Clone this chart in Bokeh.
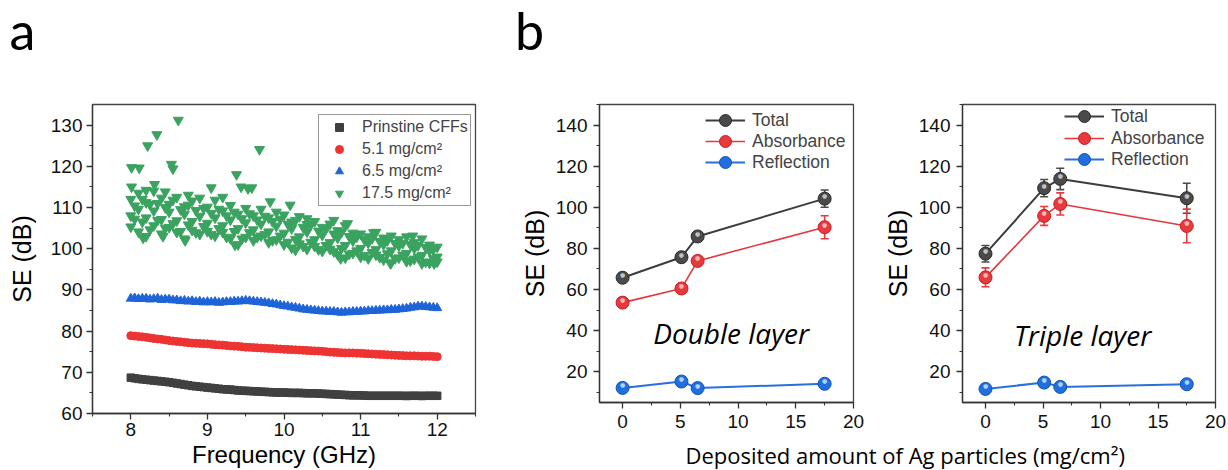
import math
from bokeh.plotting import figure
from bokeh.models import Range1d, FixedTicker, Legend, LegendItem, Label, ColumnDataSource
from bokeh.layouts import row, column
from bokeh.embed import file_html
from bokeh.resources import INLINE
from bokeh.core.properties import value

# ---------------- panel a data ----------------
freq = [8.0, 8.1, 8.2, 8.3, 8.4, 8.5, 8.6, 8.7, 8.8, 8.9,
        9.0, 9.1, 9.2, 9.3, 9.4, 9.5, 9.6, 9.7, 9.8, 9.9,
        10.0, 10.1, 10.2, 10.3, 10.4, 10.5, 10.6, 10.7, 10.8, 10.9,
        11.0, 11.1, 11.2, 11.3, 11.4, 11.5, 11.6, 11.7, 11.8, 11.9,
        12.0]
freq_b = [8.05, 8.15, 8.25, 8.35, 8.45, 8.55, 8.65, 8.75, 8.85, 8.95,
          9.05, 9.15, 9.25, 9.35, 9.45, 9.55, 9.65, 9.75, 9.85, 9.95,
          10.05, 10.15, 10.25, 10.35, 10.45, 10.55, 10.65, 10.75, 10.85, 10.95,
          11.05, 11.15, 11.25, 11.35, 11.45, 11.55, 11.65, 11.75, 11.85, 11.95]
freq_fine = [8.00, 8.05, 8.10, 8.15, 8.20, 8.25, 8.30, 8.35, 8.40, 8.45,
             8.50, 8.55, 8.60, 8.65, 8.70, 8.75, 8.80, 8.85, 8.90, 8.95,
             9.00, 9.05, 9.10, 9.15, 9.20, 9.25, 9.30, 9.35, 9.40, 9.45,
             9.50, 9.55, 9.60, 9.65, 9.70, 9.75, 9.80, 9.85, 9.90, 9.95,
             10.00, 10.05, 10.10, 10.15, 10.20, 10.25, 10.30, 10.35, 10.40, 10.45,
             10.50, 10.55, 10.60, 10.65, 10.70, 10.75, 10.80, 10.85, 10.90, 10.95,
             11.00, 11.05, 11.10, 11.15, 11.20, 11.25, 11.30, 11.35, 11.40, 11.45,
             11.50, 11.55, 11.60, 11.65, 11.70, 11.75, 11.80, 11.85, 11.90, 11.95,
             12.00]

se_pristine = [68.70, 68.55, 68.40, 68.30, 68.20, 68.10, 68.00, 67.90, 67.80, 67.70,
               67.60, 67.45, 67.30, 67.15, 67.00, 66.85, 66.70, 66.60, 66.50, 66.40,
               66.30, 66.20, 66.10, 66.00, 65.90, 65.85, 65.80, 65.70, 65.60, 65.55,
               65.50, 65.45, 65.40, 65.35, 65.30, 65.25, 65.20, 65.15, 65.10, 65.10,
               65.10, 65.05, 65.00, 65.00, 65.00, 64.95, 64.90, 64.90, 64.90, 64.85,
               64.80, 64.75, 64.70, 64.65, 64.60, 64.55, 64.50, 64.45, 64.40, 64.40,
               64.40, 64.35, 64.30, 64.30, 64.30, 64.30, 64.30, 64.30, 64.30, 64.30,
               64.30, 64.30, 64.25, 64.30, 64.30, 64.30, 64.25, 64.30, 64.30, 64.30,
               64.30]
se_51 = [78.90, 78.80, 78.70, 78.60, 78.50, 78.35, 78.20, 78.10, 78.00, 77.85,
         77.70, 77.60, 77.50, 77.40, 77.30, 77.20, 77.10, 77.05, 77.00, 76.95,
         76.90, 76.80, 76.70, 76.65, 76.60, 76.50, 76.40, 76.35, 76.30, 76.20,
         76.10, 76.05, 76.00, 75.95, 75.90, 75.85, 75.80, 75.75, 75.70, 75.65,
         75.60, 75.55, 75.50, 75.45, 75.40, 75.35, 75.30, 75.25, 75.20, 75.15,
         75.10, 75.00, 74.90, 74.85, 74.80, 74.75, 74.70, 74.70, 74.70, 74.65,
         74.60, 74.55, 74.50, 74.45, 74.40, 74.35, 74.30, 74.25, 74.20, 74.15,
         74.10, 74.05, 74.00, 74.00, 74.00, 73.95, 73.90, 73.90, 73.90, 73.85,
         73.80]
se_65 = [87.9, 88.0, 87.8, 87.9, 87.9, 87.7, 87.8, 87.9, 87.6, 87.7,
         87.7, 87.5, 87.5, 87.3, 87.4, 87.2, 87.3, 87.1, 87.2, 87.0,
         87.1, 87.0, 87.1, 86.9, 87.0, 87.1, 87.1, 87.2, 87.2, 87.3,
         87.4, 87.3, 87.2, 87.1, 87.0, 86.9, 86.8, 86.6, 86.5, 86.3,
         86.1, 86.0, 85.8, 85.7, 85.5, 85.3, 85.2, 85.1, 85.0, 84.9,
         84.8, 84.8, 84.7, 84.7, 84.6, 84.5, 84.6, 84.6, 84.7, 84.7,
         84.8, 84.8, 84.9, 84.9, 85.0, 85.0, 85.1, 85.1, 85.2, 85.2,
         85.3, 85.4, 85.5, 85.7, 85.8, 86.0, 86.0, 85.9, 85.8, 85.7,
         85.6]
# 17.5 mg/cm2 : scattered readings
se_175_hi = [112.0, 113.5, 111.2, 114.0, 112.3, 110.8, 112.5, 110.2, 111.6, 112.3,
             110.1, 111.8, 109.2, 110.5, 108.4, 109.8, 108.0, 109.6, 107.5, 108.9,
             108.2, 106.5, 107.8, 105.9, 106.6, 105.2, 106.0, 104.4, 105.6, 103.8,
             103.6, 102.9, 104.0, 102.6, 103.1, 102.2, 102.9, 101.5, 102.4, 100.9,
             100.4]
se_175_mid = [108.0, 109.6, 107.5, 109.2, 107.1, 108.9, 106.8, 108.4, 106.6, 107.9,
              106.2, 107.5, 105.6, 107.0, 104.9, 106.3, 104.6, 106.0, 104.1, 105.5,
              103.8, 104.9, 102.9, 104.1, 102.2, 103.3, 101.5, 102.6, 100.8, 101.9,
              100.1, 101.4, 99.8, 101.0, 99.5, 100.7, 98.9, 100.1, 98.4, 99.5,
              98.0]
se_175_lo = [105.3, 104.1, 103.0, 105.6, 103.6, 105.2, 104.0, 102.4, 104.5, 103.5,
             104.2, 103.1, 104.0, 102.5, 101.0, 102.8, 102.0, 103.1, 101.5, 102.2,
             101.0, 100.2, 101.2, 99.9, 100.6, 99.4, 99.9, 98.6, 97.8, 98.9,
             98.0, 97.6, 98.5, 97.3, 96.6, 97.8, 96.9, 97.5, 96.4, 96.5,
             96.8]
se_175_b = [110.4, 106.5, 110.8, 106.9, 110.0, 106.1, 109.5, 105.8, 109.3, 105.4,
            108.6, 104.9, 108.0, 104.2, 107.3, 103.9, 107.0, 103.5, 106.6, 103.1,
            106.0, 102.3, 105.2, 101.6, 104.3, 100.8, 103.6, 100.1, 103.0, 99.5,
            102.2, 99.1, 101.8, 98.8, 101.3, 98.5, 101.0, 98.0, 100.3, 97.6]
se_175_b2 = [107.2, 112.0, 104.6, 111.0, 105.0, 111.8, 104.2, 110.6, 103.9, 109.8,
             103.5, 109.6, 102.8, 108.9, 102.4, 108.5, 102.8, 107.9, 102.0, 107.2,
             101.6, 106.9, 100.6, 105.8, 99.8, 104.9, 99.3, 104.0, 98.7, 102.9,
             98.4, 102.5, 97.9, 102.0, 97.6, 101.3, 97.1, 100.8, 96.8, 99.9]
out_freq = [8.01, 8.11, 8.22, 8.34, 8.62, 8.53, 8.55, 9.68, 9.38, 8.01,
            8.31, 9.05, 9.44, 9.53, 9.58, 8.16, 8.42, 8.71, 9.36, 10.15,
            10.74, 11.39, 11.96, 10.08, 9.82, 10.83, 11.17, 11.68, 10.65, 10.30,
            8.75, 9.20, 8.45, 8.20]
out_se = [119.7, 119.6, 125.0, 127.7, 131.2, 120.5, 119.4, 124.1, 118.0, 115.0,
          115.6, 114.8, 115.0, 114.6, 114.8, 102.6, 103.0, 102.0, 100.9, 99.7,
          97.6, 96.4, 96.4, 110.6, 111.4, 106.1, 103.9, 103.1, 106.9, 107.3,
          113.0, 112.5, 113.8, 114.2]

a_labels = ["Prinstine CFFs", "5.1 mg/cm\u00b2", "6.5 mg/cm\u00b2", "17.5 mg/cm\u00b2"]

# ---------------- panel b data ----------------
amount = [0, 5.1, 6.5, 17.5]
dbl_total = [65.7, 75.7, 85.8, 104.2]
dbl_total_err = [1.2, 1.2, 1.5, 4.2]
dbl_abs = [53.6, 60.5, 73.9, 90.3]
dbl_abs_err = [1.0, 1.5, 1.5, 5.6]
dbl_refl = [12.1, 15.2, 12.0, 14.1]
dbl_refl_err = [0.5, 0.8, 0.5, 0.6]
tri_total = [77.4, 109.3, 113.8, 104.4]
tri_total_err = [4.0, 4.2, 5.2, 7.3]
tri_abs = [65.9, 95.8, 101.6, 90.9]
tri_abs_err = [4.6, 4.6, 5.4, 8.2]
tri_refl = [11.6, 14.7, 12.6, 13.9]
tri_refl_err = [0.6, 0.8, 0.6, 0.7]
b_labels = ["Total", "Absorbance", "Reflection"]

AX = "#333333"
TICK_FONT = "Liberation Sans"
CAL_FONT = "Open Sans"
TOP_H = 66
BOT_H = 32


def style_axes(p, xt, xm, yt, ym, xstand, ystand, ylab_stand):
    p.xaxis.ticker = FixedTicker(ticks=xt, minor_ticks=xm)
    p.yaxis.ticker = FixedTicker(ticks=yt, minor_ticks=ym)
    p.grid.visible = False
    for ax in (p.xaxis[0], p.yaxis[0]):
        ax.axis_line_color = AX
        ax.axis_line_width = 1.3
        ax.major_tick_line_color = AX
        ax.minor_tick_line_color = AX
        ax.major_tick_line_width = 1.3
        ax.minor_tick_line_width = 1.1
        ax.major_tick_in = 0
        ax.major_tick_out = 6
        ax.minor_tick_in = 0
        ax.minor_tick_out = 3
        ax.major_label_text_font = TICK_FONT
        ax.major_label_text_font_size = "19px"
        ax.major_label_text_color = "#111111"
        ax.axis_label_text_font = TICK_FONT
        ax.axis_label_text_font_style = "normal"
        ax.axis_label_text_color = "black"
    p.xaxis.major_label_standoff = xstand
    p.yaxis.major_label_standoff = ystand
    p.yaxis.axis_label = "SE (dB)"
    p.yaxis.axis_label_text_font_size = "25px"
    p.yaxis.axis_label_standoff = ylab_stand
    p.outline_line_color = "#444444"
    p.outline_line_width = 1.3


# ================= top strip with panel letters =================
pt = figure(width=1228, height=TOP_H, x_range=Range1d(0, 1), y_range=Range1d(0, 1),
            x_axis_type=None, y_axis_type=None, title=None,
            toolbar_location=None, output_backend="svg", min_border=0)
pt.outline_line_color = None
pt.grid.visible = False
for txt, xx in (("a", 9.0), ("b", 514.6)):
    pt.add_layout(Label(x=xx, y=37, x_units="screen", y_units="screen", text=txt,
                        text_font="Lato", text_font_size="52px", text_color="black",
                        text_align="left", text_baseline="alphabetic"))

# ================= panel a =================
pa = figure(width=513, height=470 - TOP_H, x_range=Range1d(7.5, 12.5), y_range=Range1d(60, 135),
            toolbar_location=None, output_backend="svg",
            min_border_left=92, min_border_right=38, min_border_top=104 - TOP_H,
            min_border_bottom=57)
style_axes(pa, [8, 9, 10, 11, 12], [7.5, 8.5, 9.5, 10.5, 11.5, 12.5],
           [60, 70, 80, 90, 100, 110, 120, 130], [65, 75, 85, 95, 105, 115, 125], 3, 4, 12)
pa.xaxis.axis_label = "Frequency (GHz)"
pa.xaxis.axis_label_text_font_size = "24px"
pa.xaxis.axis_label_standoff = 2

r_black = pa.scatter(freq_fine, se_pristine, marker="square", size=7.5,
                     fill_color="#404040", line_color="#404040")
r_red = pa.scatter(freq_fine, se_51, marker="circle", size=8,
                   fill_color="#ee3333", line_color="#ee3333")
r_blue = pa.scatter(freq_fine, se_65, marker="triangle", size=9,
                    fill_color="#1e64d8", line_color="#1e64d8")
GREEN = "#3aa35f"
r_green = pa.scatter(freq, se_175_hi, marker="inverted_triangle", size=10,
                     fill_color=GREEN, line_color=GREEN)
for xs, ys in ((freq, se_175_lo), (freq, se_175_mid), (freq_b, se_175_b),
               (freq_b, se_175_b2), (out_freq, out_se)):
    pa.scatter(xs, ys, marker="inverted_triangle", size=10, fill_color=GREEN, line_color=GREEN)

leg_a = Legend(items=[LegendItem(label=a_labels[0], renderers=[r_black]),
                      LegendItem(label=a_labels[1], renderers=[r_red]),
                      LegendItem(label=a_labels[2], renderers=[r_blue]),
                      LegendItem(label=a_labels[3], renderers=[r_green])],
               location=(226, 207), margin=0, padding=2, spacing=2,
               glyph_width=36, glyph_height=20, label_height=20, label_standoff=5,
               label_text_font=TICK_FONT, label_text_font_size="16px",
               border_line_color="#333333", border_line_width=1,
               background_fill_color="white", background_fill_alpha=1.0)
pa.add_layout(leg_a)


# ================= panels b / c =================
def ball_series(p, x, y, err, base, edge, glint, line_color, lw):
    src = ColumnDataSource(dict(x=x, y=y,
                                lo=[v - e for v, e in zip(y, err)],
                                hi=[v + e for v, e in zip(y, err)]))
    ln = p.line("x", "y", source=src, line_color=line_color, line_width=lw)
    p.segment(x0="x", y0="lo", x1="x", y1="hi", source=src, line_color=base, line_width=1.6)
    p.scatter("x", "lo", source=src, marker="dash", size=8, line_color=base, line_width=1.6)
    p.scatter("x", "hi", source=src, marker="dash", size=8, line_color=base, line_width=1.6)
    ball = p.scatter("x", "y", source=src, marker="circle", size=13,
                     fill_color=base, line_color=edge, line_width=1)
    p.text("x", "y", source=src, text=value("\u25cf"), text_font=value("DejaVu Sans"),
           text_font_size=value("6px"), text_color=glint, text_alpha=0.85,
           text_align="center", text_baseline="middle", y_offset=-3)
    return ln, ball


GRAY = ("#4a4a4a", "#2a2a2a", "#d8d8d8", "#3c3c3c", 2)
RED = ("#e8393d", "#c41e24", "#ffd0d0", "#e5373b", 1.6)
BLUE = ("#1f6fe0", "#1450b0", "#d0e4ff", "#2a6fdc", 2)


def layer_panel(width, height, bl, br, bt, bb, total, total_err, ab, ab_err, refl, refl_err,
                leg_x, leg_ys):
    p = figure(width=width, height=height, x_range=Range1d(-2, 20), y_range=Range1d(5, 150),
               toolbar_location=None, output_backend="svg",
               min_border_left=bl, min_border_right=br, min_border_top=bt, min_border_bottom=bb)
    style_axes(p, [0, 5, 10, 15, 20], [2.5, 7.5, 12.5, 17.5],
               [20, 40, 60, 80, 100, 120, 140], [10, 30, 50, 70, 90, 110, 130, 150], 6, 6, 4)
    for (yy, ee, sty), lab, ly in zip([(total, total_err, GRAY), (ab, ab_err, RED),
                                       (refl, refl_err, BLUE)], b_labels, leg_ys):
        ln, ball = ball_series(p, amount, yy, ee, sty[0], sty[1], sty[2], sty[3], sty[4])
        leg = Legend(items=[LegendItem(label=lab, renderers=[ln, ball])],
                     location=(leg_x, ly), margin=0, padding=0, spacing=0,
                     glyph_width=40, glyph_height=30, label_height=30, label_standoff=7,
                     label_text_font=TICK_FONT, label_text_font_size="17.5px",
                     border_line_color=None, background_fill_alpha=0.0)
        p.add_layout(leg)
    return p


MID_H = 470 - TOP_H - BOT_H
pb = layer_panel(367, MID_H, 86, 27, 104 - TOP_H, (470 - BOT_H) - 403, dbl_total, dbl_total_err,
                 dbl_abs, dbl_abs_err, dbl_refl, dbl_refl_err, 106, (267, 246, 225))
pb.add_layout(Label(x=9.4, y=38.8, text="Double layer", text_font=CAL_FONT,
                    text_font_style="italic", text_font_size="28px", text_color="black",
                    text_align="center", text_baseline="alphabetic"))

pc = layer_panel(348, MID_H, 81, 13, 103 - TOP_H, (470 - BOT_H) - 402, tri_total, tri_total_err,
                 tri_abs, tri_abs_err, tri_refl, tri_refl_err, 102, (271, 249, 228))
pc.add_layout(Label(x=8.44, y=37.9, text="Triple layer", text_font=CAL_FONT,
                    text_font_style="italic", text_font_size="28px", text_color="black",
                    text_align="center", text_baseline="alphabetic"))

# shared x label strip
pd = figure(width=715, height=BOT_H, x_range=Range1d(0, 1), y_range=Range1d(0, 1),
            x_axis_type=None, y_axis_type=None, title=None,
            toolbar_location=None, output_backend="svg", min_border=0)
pd.outline_line_color = None
pd.grid.visible = False
pd.add_layout(Label(x=391.7, y=15.5, x_units="screen", y_units="screen",
                    text="Deposited amount of Ag particles (mg/cm\u00b2)",
                    text_font=CAL_FONT, text_font_size="22px", text_color="black",
                    text_align="center", text_baseline="alphabetic"))

layout = column(pt, row(pa, column(row(pb, pc), pd)))
open("out.html", "w").write(file_html(layout, INLINE))
